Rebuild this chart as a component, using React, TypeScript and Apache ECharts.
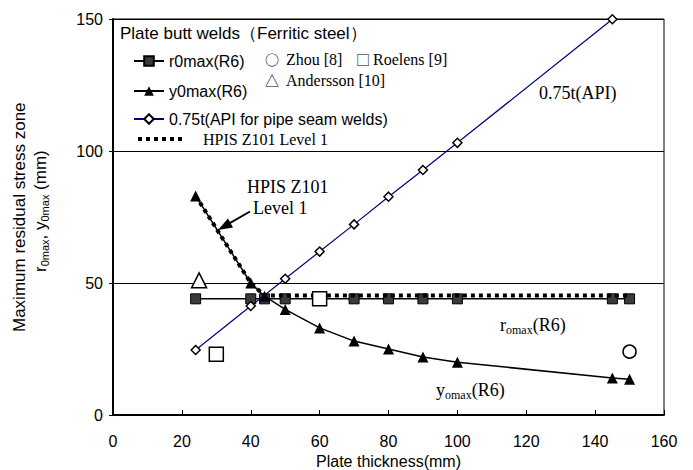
import React, { useEffect, useRef } from 'react';
import * as echarts from 'echarts';

const sans = '"Liberation Sans", Arial, sans-serif';
const serif = '"Liberation Serif", "Times New Roman", serif';
const cjk = '"Noto Sans CJK JP", sans-serif';

// Plate thickness (mm) and zone sizes (mm)
const r0Thick = [24, 40, 44, 50, 60, 70, 80, 90, 100, 145, 150];
const r0Vals = [44, 44, 44, 44, 44, 44, 44, 44, 44, 44, 44];
const y0Thick = [24, 40, 44, 50, 60, 70, 80, 90, 100, 145, 150];
const y0Vals = [83, 50, 45, 40, 33, 28, 25, 22, 20, 14, 13.5];
const apiThick = [24, 40, 50, 60, 70, 80, 90, 100, 145];
const apiVals = [24.6, 41.3, 51.6, 61.9, 72.2, 82.7, 92.8, 103.1, 149.9];
const hpisThick = [24, 40, 44, 150];
const hpisVals = [83, 50, 45.3, 45.3];
const zhouThick = [150];
const zhouVals = [24];
const roelensThick = [30, 60];
const roelensVals = [23, 44];
const anderssonThick = [25];
const anderssonVals = [51];

const xTicks = { min: 0, max: 160, interval: 20 };
const yTicks = { min: 0, max: 150, interval: 50 };

const pairs = (xs: number[], ys: number[]) => xs.map((x, i) => [x, ys[i]]);

export default function App() {
  const ref = useRef<HTMLDivElement>(null);
  useEffect(() => {
    if (!ref.current) return;
    const chart = echarts.init(ref.current, undefined, { renderer: 'svg' });
    const legendBase = {
      orient: 'horizontal',
      padding: 0,
      itemWidth: 30,
      itemHeight: 12,
      selectedMode: false,
      textStyle: { color: '#000', fontSize: 16, fontFamily: sans },
    };
    const subRich = (size: number, sub: number, fam: string) => ({
      n: { fontSize: size, fontFamily: fam, color: '#000', lineHeight: size + 4, verticalAlign: 'middle' },
      s: { fontSize: sub, fontFamily: fam, color: '#000', lineHeight: sub, verticalAlign: 'bottom' },
    });
    const txt = (x: number, y: number, text: string, size: number, fam: string) => ({
      type: 'text',
      x,
      y,
      style: { text, fontSize: size, fontFamily: fam, fill: '#000', align: 'left', verticalAlign: 'middle' },
    });
    chart.setOption({
      animation: false,
      backgroundColor: '#fff',
      grid: {
        left: 113,
        right: 29,
        top: 19,
        bottom: 55,
        show: true,
        borderColor: '#000',
        borderWidth: 1,
        containLabel: false,
        outerBoundsMode: 'none',
      },
      xAxis: {
        type: 'value',
        ...xTicks,
        axisLine: { lineStyle: { color: '#000', width: 2 } },
        axisTick: { inside: true, length: 5, lineStyle: { color: '#000' } },
        axisLabel: { color: '#000', fontSize: 16, fontFamily: sans, margin: 18 },
        splitLine: { show: false },
        name: 'Plate thickness(mm)',
        nameLocation: 'middle',
        nameGap: 34,
        nameTextStyle: { color: '#000', fontSize: 16, fontFamily: sans, lineHeight: 16 },
      },
      yAxis: {
        type: 'value',
        ...yTicks,
        axisLine: { show: true, lineStyle: { color: '#000', width: 2 } },
        axisTick: { show: true, inside: false, length: 4, lineStyle: { color: '#000' } },
        axisLabel: { color: '#000', fontSize: 16, fontFamily: sans, margin: 10 },
        splitLine: { show: true, lineStyle: { color: '#000', width: 1 } },
      },
      legend: [
        { ...legendBase, left: 133, top: 53, data: ['r0max(R6)'] },
        { ...legendBase, left: 133, top: 83, data: ['y0max(R6)'] },
        { ...legendBase, left: 133, top: 111, data: ['0.75t(API for pipe seam welds)'] },
        {
          ...legendBase,
          left: 136,
          top: 131,
          itemWidth: 48,
          data: ['HPIS Z101 Level 1'],
          itemStyle: { color: 'rgba(0,0,0,0)', borderWidth: 0, opacity: 0 },
          lineStyle: { color: '#000', width: 4, type: [4, 4] },
          textStyle: { color: '#000', fontSize: 16, fontFamily: serif, padding: [0, 0, 0, 12] },
        },
      ],
      series: [
        {
          name: 'r0max(R6)',
          type: 'line',
          data: pairs(r0Thick, r0Vals),
          symbol: 'rect',
          symbolSize: 10,
          lineStyle: { color: '#000', width: 1.5 },
          itemStyle: { color: '#3a3a3a', borderColor: '#000', borderWidth: 1 },
          z: 2,
        },
        {
          name: 'y0max(R6)',
          type: 'line',
          data: pairs(y0Thick, y0Vals),
          symbol: 'triangle',
          symbolSize: 11,
          lineStyle: { color: '#000', width: 1.5 },
          itemStyle: { color: '#000' },
          z: 3,
        },
        {
          name: '0.75t(API for pipe seam welds)',
          type: 'line',
          data: pairs(apiThick, apiVals),
          symbol: 'diamond',
          symbolSize: 9,
          lineStyle: { color: '#000080', width: 1.2 },
          itemStyle: { color: '#fff', borderColor: '#000', borderWidth: 1.5 },
          z: 4,
        },
        {
          name: 'HPIS Z101 Level 1',
          type: 'line',
          data: pairs(hpisThick, hpisVals),
          symbol: 'none',
          lineStyle: { color: '#000', width: 4, type: [4, 4] },
          itemStyle: { color: '#000' },
          z: 5,
        },
        {
          name: 'Zhou [8]',
          type: 'scatter',
          data: pairs(zhouThick, zhouVals),
          symbol: 'circle',
          symbolSize: 13,
          itemStyle: { color: '#fff', borderColor: '#000', borderWidth: 1.5, opacity: 1 },
          z: 6,
        },
        {
          name: 'Roelens [9]',
          type: 'scatter',
          data: pairs(roelensThick, roelensVals),
          symbol: 'rect',
          symbolSize: 14,
          itemStyle: { color: '#fff', borderColor: '#000', borderWidth: 1.5, opacity: 1 },
          z: 6,
        },
        {
          name: 'Andersson [10]',
          type: 'scatter',
          data: pairs(anderssonThick, anderssonVals),
          symbol: 'triangle',
          symbolSize: 15,
          itemStyle: { color: '#fff', borderColor: '#000', borderWidth: 1.5, opacity: 1 },
          z: 6,
        },
      ],
      graphic: [
        txt(120, 33, 'Plate butt welds（Ferritic steel）', 17, sans),
        txt(265, 59, '○', 14, cjk),
        txt(286, 59, 'Zhou [8]', 16, serif),
        txt(356, 59, '□', 14, cjk),
        txt(373, 59, 'Roelens [9]', 16, serif),
        txt(265, 80, '△', 14, cjk),
        txt(286, 80, 'Andersson [10]', 16, serif),
        txt(247, 187, 'HPIS Z101', 18, serif),
        txt(253, 208, 'Level 1', 18, serif),
        {
          type: 'line',
          shape: { x1: 250, y1: 211.5, x2: 228, y2: 224.2 },
          style: { stroke: '#000', lineWidth: 2 },
        },
        {
          type: 'polygon',
          shape: { points: [[218, 230], [233, 227.5], [228, 218.5]] },
          style: { fill: '#000' },
        },
        txt(539, 93, '0.75t(API)', 18, serif),
        {
          type: 'text',
          x: 500,
          y: 325,
          style: { text: '{n|r}{s|omax}{n|(R6)}', rich: subRich(18, 12, serif), verticalAlign: 'middle' },
        },
        {
          type: 'text',
          x: 436,
          y: 390,
          style: { text: '{n|y}{s|omax}{n|(R6)}', rich: subRich(18, 12, serif), verticalAlign: 'middle' },
        },
        {
          type: 'text',
          x: 19,
          y: 332,
          rotation: Math.PI / 2,
          style: {
            text: 'Maximum residual stress zone',
            fontSize: 17,
            fontFamily: sans,
            fill: '#000',
            align: 'left',
            verticalAlign: 'middle',
          },
        },
        {
          type: 'text',
          x: 40,
          y: 272,
          rotation: Math.PI / 2,
          style: {
            text: '{n|r}{s|0max}{n|, y}{s|0max}{n| (mm)}',
            rich: subRich(17, 11, sans),
            align: 'left',
            verticalAlign: 'middle',
          },
        },
      ],
    });
    return () => chart.dispose();
  }, []);
  return <div ref={ref} style={{ position: 'fixed', left: 0, top: 0, width: 693, height: 470 }} />;
}
